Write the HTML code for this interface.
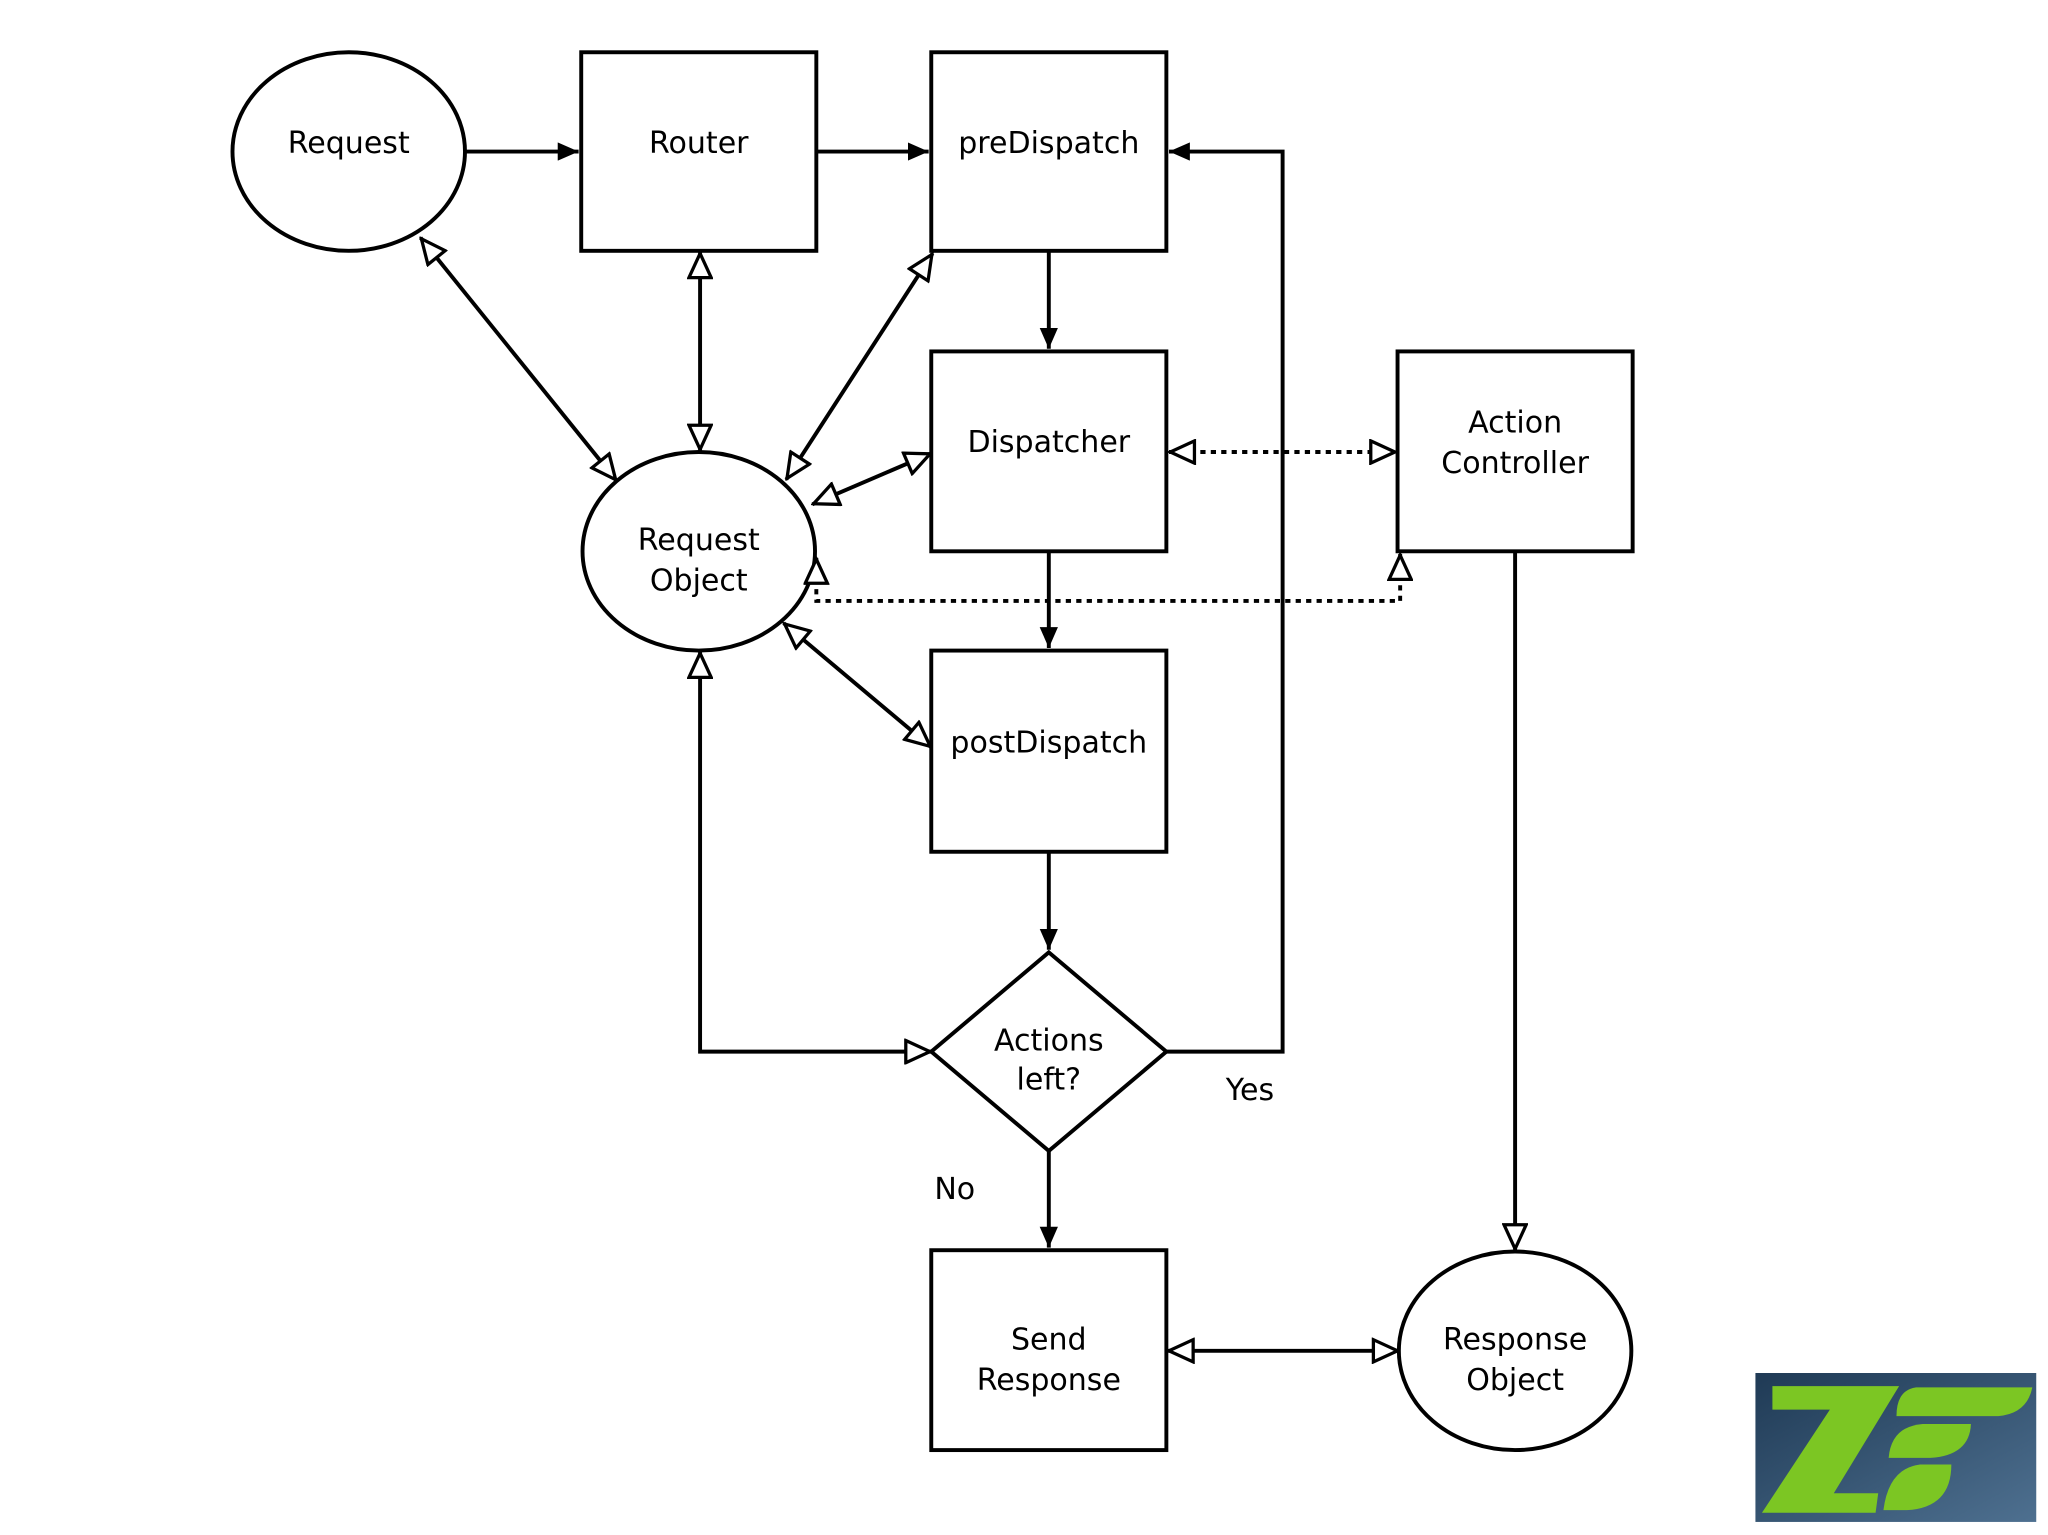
<!DOCTYPE html>
<html><head><meta charset="utf-8"><style>html,body{margin:0;padding:0;background:#fff}svg{display:block}</style></head>
<body>
<svg width="2048" height="1535" viewBox="0 0 1568 1175" preserveAspectRatio="none" xmlns="http://www.w3.org/2000/svg">
<defs>
<marker id="f" viewBox="0 0 16 14" refX="16" refY="7" markerWidth="16" markerHeight="14" markerUnits="userSpaceOnUse" orient="auto-start-reverse"><path d="M0,0 L16,7 L0,14 Z" fill="#000"/></marker>
<marker id="h" viewBox="0 0 22 20" refX="21" refY="10" markerWidth="22" markerHeight="20" markerUnits="userSpaceOnUse" orient="auto-start-reverse"><path d="M1.5,1.5 L20,10 L1.5,18.5 Z" fill="#fff" stroke="#000" stroke-width="2.5"/></marker>
<linearGradient id="bg" x1="0" y1="0" x2="1" y2="1"><stop offset="0" stop-color="#1f3a55"/><stop offset="1" stop-color="#4e7090"/></linearGradient>
</defs>
<g fill="#fff" stroke="#000" stroke-width="3">
<ellipse cx="267" cy="116" rx="89" ry="76"/>
<rect x="445" y="40" width="180" height="152"/>
<rect x="713" y="40" width="180" height="152"/>
<rect x="713" y="269" width="180" height="153"/>
<rect x="713" y="498" width="180" height="154"/>
<rect x="1070" y="269" width="180" height="153"/>
<ellipse cx="535" cy="422" rx="89" ry="76"/>
<path d="M803,729 L893,805 L803,881 L713,805 Z"/>
<rect x="713" y="957" width="180" height="153"/>
<ellipse cx="1160" cy="1034" rx="89" ry="76"/>
</g>
<g fill="none" stroke="#000" stroke-width="3">
<line x1="357" y1="116" x2="443" y2="116" marker-end="url(#f)"/>
<line x1="625" y1="116" x2="711" y2="116" marker-end="url(#f)"/>
<polyline points="893,805 982,805 982,116 895,116" marker-end="url(#f)"/>
<line x1="803" y1="192" x2="803" y2="267" marker-end="url(#f)"/>
<line x1="803" y1="422" x2="803" y2="496" marker-end="url(#f)"/>
<line x1="803" y1="652" x2="803" y2="727" marker-end="url(#f)"/>
<line x1="803" y1="881" x2="803" y2="955" marker-end="url(#f)"/>
<line x1="322" y1="182" x2="472" y2="368" marker-start="url(#h)" marker-end="url(#h)"/>
<line x1="536" y1="193" x2="536" y2="345" marker-start="url(#h)" marker-end="url(#h)"/>
<line x1="714" y1="194" x2="602" y2="367" marker-start="url(#h)" marker-end="url(#h)"/>
<line x1="713" y1="347" x2="622" y2="386" marker-start="url(#h)" marker-end="url(#h)"/>
<line x1="713" y1="572" x2="600" y2="477" marker-start="url(#h)" marker-end="url(#h)"/>
<polyline points="536,499 536,805 713,805" marker-start="url(#h)" marker-end="url(#h)"/>
<line x1="1160" y1="422" x2="1160" y2="957" marker-end="url(#h)"/>
<line x1="894" y1="1034" x2="1071" y2="1034" marker-start="url(#h)" marker-end="url(#h)"/>
</g>
<g fill="none" stroke="#000" stroke-width="3" stroke-dasharray="4,4">
<line x1="895" y1="346" x2="1069" y2="346" marker-start="url(#h)" marker-end="url(#h)"/>
<polyline points="625,427 625,460 1072,460 1072,424" marker-start="url(#h)" marker-end="url(#h)"/>
</g>
<g font-family="'DejaVu Sans','Liberation Sans',sans-serif" font-size="23" fill="#000" text-anchor="middle">
<text x="267" y="117">Request</text>
<text x="535" y="117">Router</text>
<text x="803" y="117">preDispatch</text>
<text x="803" y="346">Dispatcher</text>
<text x="803" y="576">postDispatch</text>
<text x="1160" y="331">Action</text>
<text x="1160" y="362">Controller</text>
<text x="535" y="421">Request</text>
<text x="535" y="452">Object</text>
<text x="803" y="804">Actions</text>
<text x="803" y="834">left?</text>
<text x="957" y="842">Yes</text>
<text x="731" y="918">No</text>
<text x="803" y="1033">Send</text>
<text x="803" y="1064">Response</text>
<text x="1160" y="1033">Response</text>
<text x="1160" y="1064">Object</text>
</g>
<g>
<rect x="1344" y="1051" width="215" height="114" fill="url(#bg)"/>
<path d="M1357,1061 L1454,1061 L1404,1143 L1438,1143 L1436,1158 L1349,1158 L1401,1079 L1357,1079 Z" fill="#7cc623"/>
<path d="M1467,1062 L1556,1062 Q1552,1082 1530,1084 L1452,1084 Q1452,1064 1467,1062 Z" fill="#7cc623"/>
<path d="M1472,1090 L1509,1090 Q1508,1114 1478,1116 L1446,1116 Q1448,1092 1472,1090 Z" fill="#7cc623"/>
<path d="M1470,1121 L1494,1121 Q1494,1154 1460,1156 L1442,1156 Q1446,1124 1470,1121 Z" fill="#7cc623"/>
</g>
</svg>
</body></html>
